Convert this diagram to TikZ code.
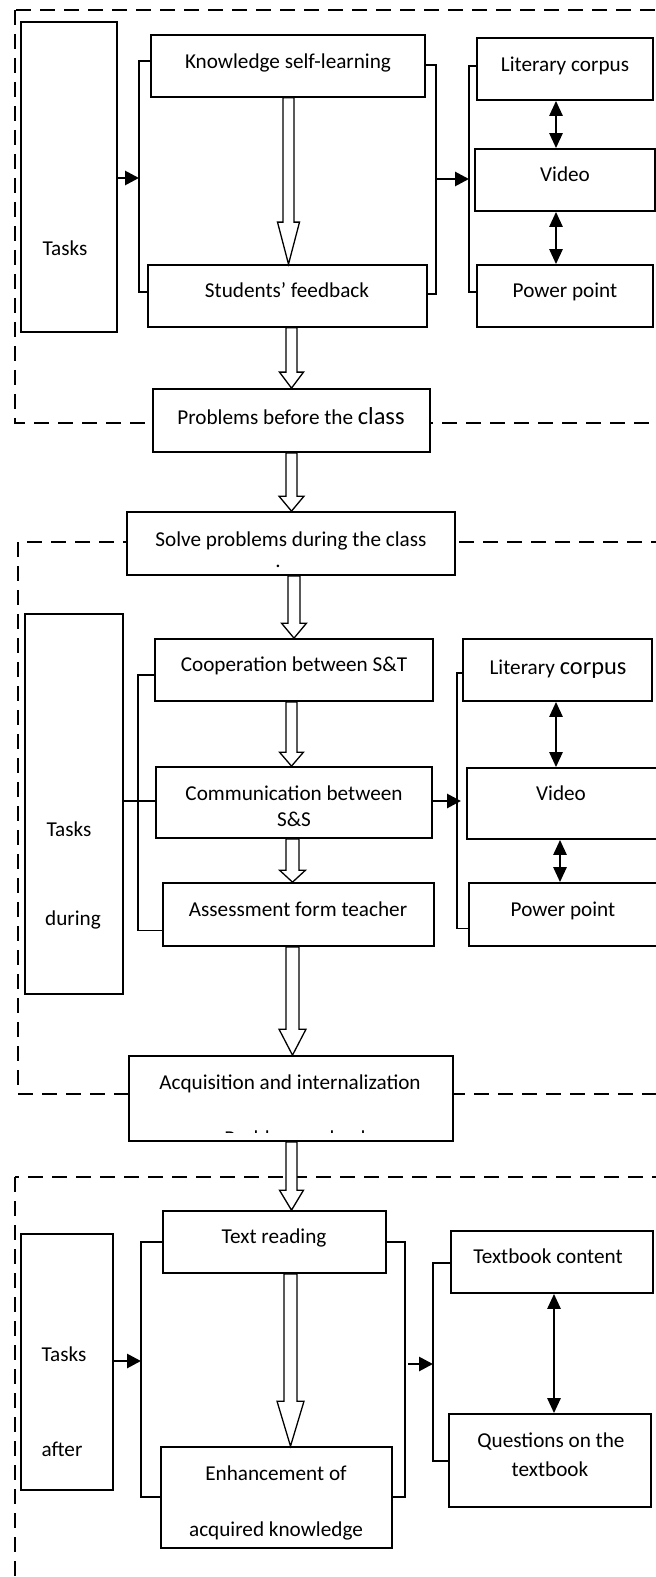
\documentclass[tikz,border=0pt]{standalone}
\usepackage{fontspec}
\setmainfont{Carlito}
\usetikzlibrary{arrows.meta,calc,fit}
\newcommand\bx[5]{\node[box, fit={(#2,#3) (#4,#5)}] (#1) {};}
\newcommand\tx[4]{\node[lbl] (#1) at (#2,{#3+8.5}) {#4};}
\newcommand\blockarr[6]{%
  \draw[hollow] let \p1=(#1.south), \p2=(#2.north) in
    ({(#3-#5)*0.5pt},\y1) -- ({(#3-#5)*0.5pt},{\y2+#4*0.5pt}) -- ({(#3-#6)*0.5pt},{\y2+#4*0.5pt})
    -- ({#3*0.5pt},\y2) -- ({(#3+#6)*0.5pt},{\y2+#4*0.5pt}) -- ({(#3+#5)*0.5pt},{\y2+#4*0.5pt})
    -- ({(#3+#5)*0.5pt},\y1) -- cycle;}
\newcommand\bigw[1]{{\fontsize{12.2}{14}\selectfont #1}}
\begin{document}
\begin{tikzpicture}[x=0.5pt,y=-0.5pt,
  box/.style={draw, line width=0.85pt, fill=white, inner sep=0pt},
  lbl/.style={inner sep=0pt, anchor=base, font=\fontsize{10.6}{13}\selectfont},
  dashbox/.style={draw, line width=1.15pt, dash pattern=on 7.5pt off 4.5pt},
  brk/.style={draw, line width=0.75pt},
  arr/.style={line width=1.4pt, -{Triangle[length=7pt,width=7pt]}},
  dbl/.style={line width=1.3pt, {Triangle[length=7.5pt,width=6.5pt]}-{Triangle[length=7.5pt,width=6.5pt]}},
  hollow/.style={draw, fill=white, line width=0.65pt}]
\useasboundingbox (0,0) rectangle (656,1577);
\clip (0,0) rectangle (656,1577);
\fill[white] (0,0) rectangle (656,1577);
% dashed sections
\draw[dashbox] (15,10) rectangle (690,423);
\draw[dashbox] (18,542) rectangle (690,1094);
\draw[dashbox] (15,1177) rectangle (690,1620);
% ---------- top section
\bx{tA}{21}{22}{117}{332}
\bx{ksl}{151}{35}{425}{97}
\bx{sf}{148}{265}{427}{327}
\bx{pbc}{153}{389}{430}{452}
\bx{lcA}{477}{38}{653}{100}
\bx{vdA}{475}{149}{655}{211}
\bx{ppA}{477}{265}{653}{327}
\tx{tTasksA}{65}{247}{Tasks}
\tx{tksl}{288}{60}{Knowledge self-learning}
\tx{tsf}{287}{289}{Students’ feedback}
\tx{tpbc}{291}{416}{Problems before the \bigw{class}}
\tx{tlcA}{565}{63}{Literary corpus}
\tx{tvdA}{565}{173}{Video}
\tx{tppA}{565}{289}{Power point}
\coordinate (bA1) at (139,178);
\coordinate (bA2) at (436,179);
\coordinate (bA3) at (469,179);
\draw[brk] ([yshift=2.5pt]ksl.west) -| (bA1) |- ([yshift=2pt]sf.west);
\draw[brk] ([yshift=0.5pt]ksl.east) -| (bA2) |- ([yshift=1pt]sf.east);
\draw[brk] ([yshift=1.5pt]lcA.west) -| (bA3) |- ([yshift=2pt]ppA.west);
\draw[arr] (tA.east |- bA1) -- (bA1);
\draw[arr] (bA2) -- (bA3);
\draw[dbl] ([xshift=-4.5pt]lcA.south) -- ([xshift=-4.5pt]lcA.south |- vdA.north);
\draw[dbl] ([xshift=-4.5pt]vdA.south) -- ([xshift=-4.5pt]vdA.south |- ppA.north);
\blockarr{ksl}{sf}{288.5}{42}{5.5}{11}
\blockarr{sf}{pbc}{291.5}{16}{5.5}{12}
% ---------- middle section
\bx{spc}{127}{512}{455}{575}
\bx{tB}{25}{614}{123}{994}
\bx{coop}{155}{639}{433}{701}
\bx{comm}{156}{767}{432}{838}
\bx{asmt}{163}{883}{434}{946}
\bx{lcB}{463}{639}{652}{701}
\bx{vdB}{467}{768}{662}{839}
\bx{ppB}{469}{883}{662}{946}
\bx{acq}{129}{1056}{453}{1141}
\tx{tspc}{291}{538}{Solve problems during the class}
\tx{tdot}{278}{559}{.}
\tx{tTasksB}{69}{828}{Tasks}
\tx{tduring}{73}{917}{during}
\tx{tcoop}{294}{663}{Cooperation between S\&T}
\tx{tcommA}{294}{792}{Communication between}
\tx{tcommB}{294}{818}{S\&S}
\tx{tasmt}{298}{908}{Assessment form teacher}
\tx{tlcB}{558}{666}{Literary \bigw{corpus}}
\tx{tvdB}{561}{792}{Video}
\tx{tppB}{563}{908}{Power point}
\tx{tacq}{290}{1081}{Acquisition and internalization}
\begin{scope}
  \clip (130,1057) rectangle (452,1132);
  \node[lbl] (thid) at (295,1145) {Problems solved};
\end{scope}
\coordinate (bB1) at (138,801);
\coordinate (bB2) at (457,801);
\draw[brk] ([yshift=-2.5pt]coop.west) -| (bB1) |- ([yshift=-8pt]asmt.west);
\draw[brk] (tB.east |- bB1) -- (comm.west |- bB1);
\draw[brk] ([yshift=-1.5pt]lcB.west) -| (bB2) |- ([yshift=-7pt]ppB.west);
\draw[arr] (comm.east |- bB2) -- ([xshift=2pt]bB2);
\draw[dbl] ([xshift=-0.75pt]lcB.south) -- ([xshift=-0.75pt]lcB.south |- vdB.north);
\draw[dbl] ([xshift=-2.25pt]vdB.south) -- ([xshift=-2.25pt]vdB.south |- ppB.north);
\blockarr{pbc}{spc}{291.5}{15}{5.5}{12.5}
\blockarr{spc}{coop}{294}{15}{6}{12.5}
\blockarr{coop}{comm}{291.5}{14}{5.5}{12}
\blockarr{comm}{asmt}{292.5}{12}{6.5}{13}
\blockarr{asmt}{acq}{292.5}{26}{6.5}{13.5}
% ---------- bottom section
\bx{tr}{163}{1211}{386}{1273}
\bx{tC}{21}{1234}{113}{1490}
\bx{enh}{161}{1447}{392}{1548}
\bx{tbc}{451}{1231}{653}{1293}
\bx{qot}{449}{1414}{651}{1507}
\tx{ttr}{274}{1235}{Text reading}
\tx{tTasksC}{64}{1353}{Tasks}
\tx{tafter}{62}{1448}{after}
\tx{tenhA}{276}{1472}{Enhancement of}
\tx{tenhB}{276}{1528}{acquired knowledge}
\tx{ttbc}{548}{1255}{Textbook content}
\tx{tqotA}{551}{1439}{Questions on the}
\tx{tqotB}{550}{1468}{textbook}
\coordinate (bC1) at (141,1361);
\coordinate (bC2) at (405,1364);
\coordinate (bC3) at (433,1364);
\draw[brk] (tr.west) -| (bC1) |- (enh.west |- 0,1497);
\draw[brk] (tr.east) -| (bC2) |- (enh.east |- 0,1497);
\draw[brk] ([yshift=-0.5pt]tbc.west) -| (bC3) |- (qot.west |- 0,1461);
\draw[arr] (tC.east |- bC1) -- (bC1);
\draw[arr] ([xshift=1.5pt]bC2) -- (bC3);
\draw[dbl] ([xshift=1pt]tbc.south) -- ([xshift=1pt]tbc.south |- qot.north);
\blockarr{acq}{tr}{291.5}{20}{5.5}{12}
\blockarr{tr}{enh}{290.5}{45}{6.5}{13.5}
\end{tikzpicture}
\end{document}
